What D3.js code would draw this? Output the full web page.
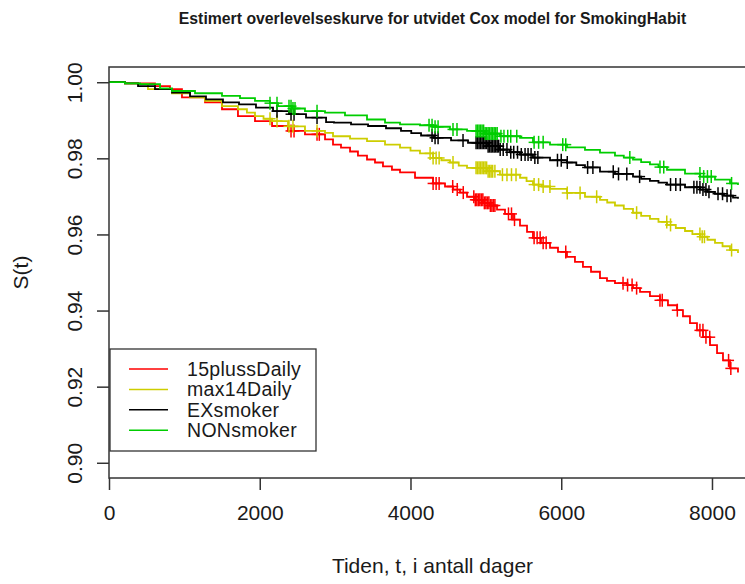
<!DOCTYPE html>
<html>
<head>
<meta charset="utf-8">
<script src="https://cdnjs.cloudflare.com/ajax/libs/d3/7.8.5/d3.min.js"></script>
<style>
  body { margin: 0; background: #ffffff; }
  svg { display: block; }
  text { font-family: "Liberation Sans", Arial, sans-serif; fill: #1a1a1a; }
</style>
</head>
<body>
<svg id="chart" width="745" height="584"></svg>
<script>
// Estimated survival curves, extended Cox model, one curve per smoking habit group
const groupNames = ["15plussDaily", "max14Daily", "EXsmoker", "NONsmoker"];
const groupColors = ["#ff0000", "#cdcd00", "#000000", "#00cd00"];

const xTickValues = [0, 2000, 4000, 6000, 8000];
const yTickValues = [0.90, 0.92, 0.94, 0.96, 0.98, 1.00];

// 15plussDaily
const timeRed = [0, 212, 610, 809, 968, 1274, 1499, 1711, 1937, 2163, 2375, 2600, 2866, 2972, 3078, 3198, 3303, 3423, 3529, 3635, 3754, 3861, 4060, 4299, 4458, 4564, 4657, 4750, 4856, 4962, 5055, 5148, 5254, 5360, 5453, 5546, 5625, 5731, 5851, 5957, 6076, 6182, 6288, 6395, 6514, 6607, 6713, 6872, 6952, 7045, 7177, 7310, 7416, 7536, 7615, 7708, 7801, 7881, 7974, 8067, 8146, 8239, 8345];
const survRed = [1.0000, 0.9997, 0.9990, 0.9982, 0.9960, 0.9947, 0.9929, 0.9911, 0.9898, 0.9885, 0.9872, 0.9863, 0.9850, 0.9836, 0.9828, 0.9818, 0.9807, 0.9797, 0.9789, 0.9779, 0.9770, 0.9763, 0.9749, 0.9734, 0.9726, 0.9718, 0.9710, 0.9699, 0.9691, 0.9683, 0.9676, 0.9665, 0.9654, 0.9639, 0.9623, 0.9607, 0.9591, 0.9578, 0.9565, 0.9554, 0.9541, 0.9528, 0.9515, 0.9502, 0.9485, 0.9478, 0.9472, 0.9467, 0.9459, 0.9449, 0.9438, 0.9427, 0.9414, 0.9401, 0.9385, 0.9367, 0.9348, 0.9330, 0.9309, 0.9288, 0.9269, 0.9248, 0.9237];
const censRed = [2415, 2455, 2760, 2790, 4300, 4340, 4380, 4560, 4620, 4700, 4840, 4860, 4880, 4900, 4920, 4940, 4960, 4980, 5000, 5020, 5040, 5060, 5080, 5100, 5120, 5300, 5340, 5380, 5640, 5680, 5720, 5760, 5800, 6060, 6820, 6880, 6940, 7000, 7310, 7340, 7540, 7840, 7880, 7920, 7970, 8220, 8250];

// max14Daily
const timeYellow = [0, 212, 385, 517, 836, 1075, 1274, 1499, 1711, 1830, 1937, 2050, 2163, 2375, 2600, 2866, 2972, 3198, 3423, 3662, 3861, 4000, 4126, 4299, 4410, 4524, 4640, 4750, 5015, 5187, 5453, 5540, 5625, 5740, 5851, 6076, 6315, 6514, 6610, 6713, 6830, 6952, 7060, 7177, 7290, 7403, 7520, 7642, 7740, 7841, 7940, 8040, 8140, 8239, 8345];
const survYellow = [1.0000, 0.9997, 0.9995, 0.9982, 0.9971, 0.9960, 0.9951, 0.9937, 0.9929, 0.9920, 0.9911, 0.9904, 0.9898, 0.9884, 0.9872, 0.9867, 0.9858, 0.9852, 0.9845, 0.9836, 0.9828, 0.9820, 0.9813, 0.9801, 0.9795, 0.9789, 0.9781, 0.9775, 0.9766, 0.9757, 0.9749, 0.9740, 0.9731, 0.9726, 0.9720, 0.9709, 0.9699, 0.9691, 0.9684, 0.9676, 0.9667, 0.9657, 0.9649, 0.9641, 0.9633, 0.9625, 0.9617, 0.9609, 0.9601, 0.9594, 0.9586, 0.9578, 0.9569, 0.9559, 0.9551];
const censYellow = [2136, 2229, 2388, 2441, 2760, 4260, 4300, 4340, 4380, 4564, 4870, 4890, 4910, 4930, 4950, 4970, 4990, 5010, 5030, 5050, 5070, 5090, 5120, 5220, 5280, 5340, 5400, 5640, 5700, 5760, 5850, 6080, 6250, 6470, 7000, 7400, 7450, 7840, 7870, 7900, 8260];

// EXsmoker
const timeBlack = [0, 212, 385, 610, 836, 1075, 1287, 1512, 1725, 1950, 2176, 2388, 2614, 2880, 2985, 3211, 3437, 3675, 3874, 4010, 4140, 4312, 4538, 4763, 5029, 5187, 5320, 5453, 5625, 5851, 6076, 6200, 6315, 6514, 6713, 6952, 7060, 7177, 7290, 7403, 7642, 7841, 7940, 8040, 8160, 8279, 8345];
const survBlack = [1.0000, 0.9997, 0.9990, 0.9982, 0.9973, 0.9963, 0.9955, 0.9947, 0.9942, 0.9933, 0.9924, 0.9916, 0.9907, 0.9895, 0.9894, 0.9889, 0.9885, 0.9879, 0.9872, 0.9866, 0.9860, 0.9854, 0.9847, 0.9841, 0.9832, 0.9823, 0.9816, 0.9810, 0.9802, 0.9795, 0.9789, 0.9782, 0.9776, 0.9765, 0.9759, 0.9752, 0.9746, 0.9741, 0.9736, 0.9731, 0.9724, 0.9718, 0.9712, 0.9707, 0.9702, 0.9697, 0.9694];
const censBlack = [2229, 2415, 2455, 2760, 4286, 4326, 4366, 4697, 4870, 4890, 4910, 4930, 4950, 4970, 4990, 5010, 5030, 5050, 5070, 5090, 5110, 5130, 5150, 5170, 5190, 5230, 5280, 5330, 5370, 5420, 5470, 5520, 5560, 5600, 5650, 5690, 5950, 6000, 6080, 6350, 6420, 6690, 6760, 6870, 7040, 7450, 7520, 7580, 7760, 7800, 7840, 7880, 7920, 7960, 8080, 8140, 8200, 8250];

// NONsmoker
const timeGreen = [0, 212, 411, 677, 836, 1141, 1499, 1738, 1937, 2136, 2242, 2428, 2600, 2866, 3131, 3423, 3662, 3861, 4126, 4299, 4524, 4750, 4988, 5187, 5453, 5625, 5851, 6076, 6315, 6514, 6713, 6830, 6952, 7060, 7177, 7290, 7403, 7642, 7841, 8040, 8239, 8345];
const survGreen = [1.0000, 0.9997, 0.9995, 0.9984, 0.9977, 0.9971, 0.9964, 0.9958, 0.9951, 0.9945, 0.9937, 0.9931, 0.9924, 0.9920, 0.9913, 0.9902, 0.9894, 0.9889, 0.9887, 0.9883, 0.9876, 0.9872, 0.9865, 0.9858, 0.9854, 0.9842, 0.9836, 0.9829, 0.9822, 0.9815, 0.9807, 0.9802, 0.9797, 0.9790, 0.9784, 0.9777, 0.9770, 0.9760, 0.9752, 0.9744, 0.9734, 0.9730];
const censGreen = [2136, 2229, 2388, 2415, 2441, 2468, 2760, 4246, 4286, 4326, 4366, 4564, 4617, 4870, 4890, 4910, 4930, 4950, 4970, 4990, 5010, 5030, 5050, 5070, 5090, 5110, 5130, 5150, 5200, 5240, 5290, 5330, 5410, 5640, 5700, 5760, 6020, 6060, 6910, 7310, 7360, 7840, 7890, 7940, 7990, 8260];

const series = [
  { time: timeRed, surv: survRed, cens: censRed },
  { time: timeYellow, surv: survYellow, cens: censYellow },
  { time: timeBlack, surv: survBlack, cens: censBlack },
  { time: timeGreen, surv: survGreen, cens: censGreen }
];

const svg = d3.select("#chart");
const plotLeft = 109, plotRight = 756, plotTop = 67, plotBottom = 478;
const axisColor = "#333333";

const x = d3.scaleLinear().domain([0, 8584]).range([plotLeft, plotRight]);
const y = d3.scaleLinear().domain([0.896, 1.004]).range([plotBottom, plotTop]);

svg.append("defs").append("clipPath").attr("id", "plotclip")
  .append("rect").attr("x", plotLeft).attr("y", plotTop)
  .attr("width", plotRight - plotLeft).attr("height", plotBottom - plotTop);

// Survival step curves with censoring marks
const line = d3.line().x(d => x(d[0])).y(d => y(d[1])).curve(d3.curveStepAfter);
const plot = svg.append("g").attr("clip-path", "url(#plotclip)");

function survAt(s, t) {
  const i = d3.bisectRight(s.time, t) - 1;
  return s.surv[Math.max(0, i)];
}

series.forEach((s, k) => {
  const pts = s.time.map((t, i) => [t, s.surv[i]]);
  plot.append("path")
    .attr("d", line(pts))
    .attr("fill", "none")
    .attr("stroke", groupColors[k])
    .attr("stroke-width", 1.8);
  const marks = plot.append("g").attr("stroke", groupColors[k]).attr("stroke-width", 1.5);
  s.cens.forEach(t => {
    const cx = x(t), cy = y(survAt(s, t));
    marks.append("line").attr("x1", cx - 5.5).attr("x2", cx + 5.5).attr("y1", cy).attr("y2", cy);
    marks.append("line").attr("x1", cx).attr("x2", cx).attr("y1", cy - 6.5).attr("y2", cy + 6.5);
  });
});

// Plot frame
svg.append("rect")
  .attr("x", plotLeft).attr("y", plotTop)
  .attr("width", plotRight - plotLeft).attr("height", plotBottom - plotTop)
  .attr("fill", "none").attr("stroke", axisColor).attr("stroke-width", 1.5);

// Axes
const xAxis = svg.append("g").attr("transform", `translate(0,${plotBottom})`)
  .call(d3.axisBottom(x).tickValues(xTickValues).tickSize(12).tickPadding(15).tickFormat(d3.format("d")));
const yAxis = svg.append("g").attr("transform", `translate(${plotLeft},0)`)
  .call(d3.axisLeft(y).tickValues(yTickValues).tickSize(12).tickFormat(d3.format(".2f")));

[xAxis, yAxis].forEach(g => {
  g.select(".domain").remove();
  g.selectAll(".tick line").attr("stroke", axisColor).attr("stroke-width", 1.5);
  g.selectAll(".tick text").attr("fill", "#1a1a1a").style("font-size", "21px")
    .style("font-family", "'Liberation Sans', Arial, sans-serif");
});
yAxis.selectAll(".tick text")
  .attr("transform", "rotate(-90)")
  .attr("x", 0).attr("y", -27).attr("dy", 0)
  .attr("text-anchor", "middle");

// Titles
svg.append("text")
  .attr("x", (plotLeft + plotRight) / 2).attr("y", 24)
  .attr("text-anchor", "middle")
  .style("font-size", "15.8px").style("font-weight", "bold")
  .text("Estimert overlevelseskurve for utvidet Cox model for SmokingHabit");

svg.append("text")
  .attr("x", (plotLeft + plotRight) / 2).attr("y", 573)
  .attr("text-anchor", "middle")
  .style("font-size", "21px")
  .text("Tiden, t, i antall dager");

svg.append("text")
  .attr("transform", `translate(28,${(plotTop + plotBottom) / 2}) rotate(-90)`)
  .attr("text-anchor", "middle")
  .style("font-size", "21px")
  .text("S(t)");

// Legend
const legend = svg.append("g");
legend.append("rect")
  .attr("x", 110).attr("y", 349).attr("width", 206).attr("height", 102)
  .attr("fill", "#ffffff").attr("stroke", axisColor).attr("stroke-width", 1.3);
groupNames.forEach((name, i) => {
  const ly = 369 + i * 20.4;
  legend.append("line").attr("x1", 129).attr("x2", 168).attr("y1", ly).attr("y2", ly)
    .attr("stroke", groupColors[i]).attr("stroke-width", 1.5);
  legend.append("text").attr("x", 187).attr("y", ly + 7)
    .style("font-size", "19.5px").style("letter-spacing", "0.3px").text(name);
});
</script>
</body>
</html>
